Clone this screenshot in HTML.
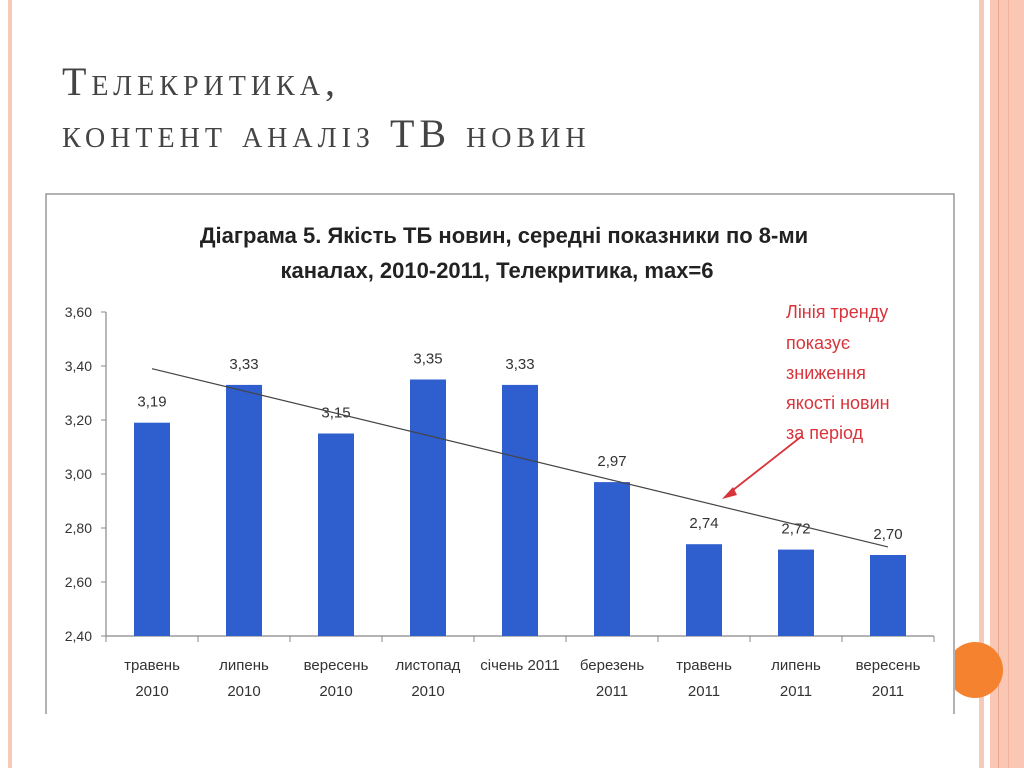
<!DOCTYPE html>
<html><head><meta charset="utf-8">
<style>
body{margin:0;width:1024px;height:768px;overflow:hidden;background:#fff;position:relative;font-family:"Liberation Sans",sans-serif}
.abs{position:absolute}
#title{left:62px;top:56px;font-family:"Liberation Serif",serif;font-size:40px;color:#444;line-height:52px;letter-spacing:5px;font-variant:small-caps;white-space:nowrap}
</style></head><body>
<div class="abs" style="left:8px;top:0;width:4px;height:768px;background:#f7c9b9"></div>
<div class="abs" style="left:979px;top:0;width:5px;height:768px;background:#f7c9b9"></div>
<div class="abs" style="left:990px;top:0;width:34px;height:768px;background:#f9c7b4"></div>
<div class="abs" style="left:998px;top:0;width:1px;height:768px;background:#e9a58c"></div>
<div class="abs" style="left:1008px;top:0;width:1px;height:768px;background:#f0b49e"></div>
<div id="title" class="abs">Телекритика,<br>контент аналіз ТВ новин</div>
<svg class="abs" style="left:0;top:0" width="1024" height="768">
<path d="M46,714 V194 H954 V714" fill="none" stroke="#999" stroke-width="1.5"/>
<text x="504" y="243" text-anchor="middle" font-family="Liberation Sans" font-weight="bold" font-size="22" fill="#222">Діаграма 5. Якість ТБ новин, середні показники по 8-ми</text>
<text x="497" y="278" text-anchor="middle" font-family="Liberation Sans" font-weight="bold" font-size="22" fill="#222">каналах,  2010-2011, Телекритика, max=6</text>
<g id="plot"></g>
<g font-family="Liberation Sans" font-size="18" fill="#d8343c">
<text x="786" y="318">Лінія тренду</text>
<text x="786" y="349">показує</text>
<text x="786" y="379">зниження</text>
<text x="786" y="409">якості новин</text>
<text x="786" y="439">за період</text>
</g>
<line x1="802" y1="436" x2="728" y2="494" stroke="#d8343c" stroke-width="1.8"/>
<polygon points="722,499 733,487 737,495" fill="#d8343c"/>
</svg>
<div class="abs" style="left:947px;top:642px;width:56px;height:56px;border-radius:50%;background:#f5822e;clip-path:inset(0 0 0 8px)"></div>
<script>
const categories=[["травень","2010"],["липень","2010"],["вересень","2010"],["листопад","2010"],["січень 2011",""],["березень","2011"],["травень","2011"],["липень","2011"],["вересень","2011"]];
const values=[3.19,3.33,3.15,3.35,3.33,2.97,2.74,2.72,2.70];
const valueLabels=["3,19","3,33","3,15","3,35","3,33","2,97","2,74","2,72","2,70"];
const yTicks=[2.4,2.6,2.8,3.0,3.2,3.4,3.6];
const yTickLabels=["2,40","2,60","2,80","3,00","3,20","3,40","3,60"];
const trend=[3.39,2.73];
const ns="http://www.w3.org/2000/svg";
const g=document.getElementById('plot');
const X0=106,Y0=636,Ymin=2.4,Ymax=3.6,H=324,step=92;
const y=v=>Y0-(v-Ymin)/(Ymax-Ymin)*H;
const xc=i=>X0+step*(i+0.5);
function mk(t,a){const e=document.createElementNS(ns,t);for(const k in a)e.setAttribute(k,a[k]);g.appendChild(e);return e;}
let ax=mk('line',{x1:X0,y1:y(Ymax),x2:X0,y2:Y0,stroke:'#888','stroke-width':1.2});


let bx=mk('line',{x1:X0,y1:Y0,x2:X0+step*categories.length,y2:Y0,stroke:'#888','stroke-width':1.2});


yTicks.forEach((v,i)=>{
 mk('line',{x1:X0-5,y1:y(v),x2:X0,y2:y(v),stroke:'#888'});
 const t=mk('text',{x:X0-14,y:y(v)+5,'text-anchor':'end','font-size':14,fill:'#333','font-family':'Liberation Sans'});
 t.textContent=yTickLabels[i];
 
 
});
for(let i=0;i<=categories.length;i++)mk('line',{x1:X0+step*i,y1:Y0,x2:X0+step*i,y2:Y0+6,stroke:'#888'});
values.forEach((v,i)=>{
 const r=mk('rect',{x:xc(i)-18,y:y(v),width:36,height:Y0-y(v),fill:'#2f5fce'});
 
 
 const t=mk('text',{x:xc(i),y:y(v)-16,'text-anchor':'middle','font-size':15,fill:'#333','font-family':'Liberation Sans'});
 t.textContent=valueLabels[i];
 
 
 const c=categories[i];
 const l1=mk('text',{x:xc(i),y:Y0+34,'text-anchor':'middle','font-size':15,fill:'#333','font-family':'Liberation Sans'});
 l1.textContent=c[0];
 
 
 if(c[1]){const l2=mk('text',{x:xc(i),y:Y0+60,'text-anchor':'middle','font-size':15,fill:'#333','font-family':'Liberation Sans'});
 l2.textContent=c[1];
 
 }
});
const tl=mk('line',{x1:xc(0),y1:y(trend[0]),x2:xc(values.length-1),y2:y(trend[1]),stroke:'#444','stroke-width':1.2});


</script>
</body></html>
